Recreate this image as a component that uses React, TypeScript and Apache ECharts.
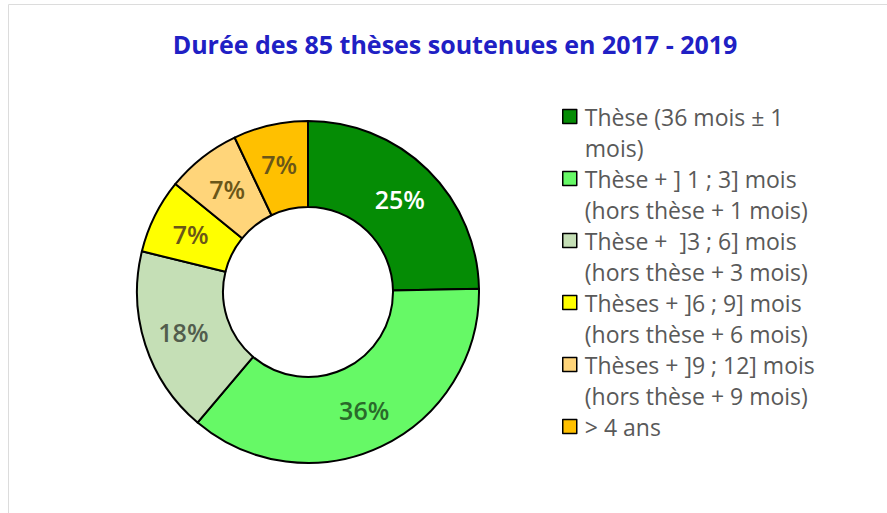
import React, { useEffect, useRef } from "react";
import * as echarts from "echarts";

const TITLE = "Durée des 85 thèses soutenues en 2017 - 2019";
const categories = [
  "Thèse (36 mois ± 1\nmois)",
  "Thèse + ] 1 ; 3] mois\n(hors thèse + 1 mois)",
  "Thèse +  ]3 ; 6] mois\n(hors thèse + 3 mois)",
  "Thèses + ]6 ; 9] mois\n(hors thèse + 6 mois)",
  "Thèses + ]9 ; 12] mois\n(hors thèse + 9 mois)",
  "> 4 ans",
];
const counts = [21, 31, 15, 6, 6, 6];
const colors = ["#058c05", "#66f966", "#c5dfb6", "#ffff00", "#ffd57a", "#ffc000"];
const labelColors = ["#ffffff", "#2a6a2a", "#525d4d", "#6a5618", "#6a5618", "#6a5618"];

export default function App() {
  const ref = useRef<HTMLDivElement>(null);
  useEffect(() => {
    if (!ref.current) return;
    const chart = echarts.init(ref.current, undefined, { renderer: "svg" });
    const font = "'Open Sans', 'Noto Sans', sans-serif";
    chart.setOption({
      animation: false,
      backgroundColor: "#ffffff",
      title: {
        text: TITLE,
        left: 455,
        top: 31,
        padding: 0,
        textAlign: "center",
        textStyle: { color: "#2020c4", fontSize: 25, fontWeight: "bold", fontFamily: font },
      },
      graphic: [
        {
          type: "rect",
          shape: { x: 8.5, y: 4.5, width: 1000, height: 1000 },
          style: { fill: "none", stroke: "#dcdcdc", lineWidth: 1 },
          silent: true,
        },
      ],
      legend: {
        orient: "vertical",
        left: 562,
        top: 70,
        padding: 0,
        itemWidth: 14,
        itemHeight: 14,
        itemGap: -31,
        icon: "rect",
        selectedMode: false,
        itemStyle: { borderColor: "#000", borderWidth: 1.5 },
        formatter: (name: string) =>
          "\n" + name + (name.indexOf("\n") >= 0 ? "" : "\n"),
        textStyle: {
          color: "#595959",
          fontSize: 23,
          fontFamily: font,
          lineHeight: 31,
          padding: [0, 0, 0, 3],
        },
        data: categories,
      },
      series: [
        {
          type: "pie",
          center: [308, 292],
          radius: [85, 171],
          startAngle: 90,
          clockwise: true,
          percentPrecision: 0,
          avoidLabelOverlap: false,
          itemStyle: { borderColor: "#000", borderWidth: 2 },
          label: {
            show: true,
            position: "inside",
            formatter: "{d}%",
            fontSize: 25,
            fontWeight: 600,
            fontFamily: font,
          },
          labelLine: { show: false },
          emphasis: { disabled: true },
          data: categories.map((name, i) => ({
            name,
            value: counts[i],
            itemStyle: { color: colors[i] },
            label: { color: labelColors[i] },
          })),
        },
      ],
    });
    return () => chart.dispose();
  }, []);
  return (
    <div
      ref={ref}
      style={{ position: "fixed", left: 0, top: 0, width: 887, height: 513 }}
    />
  );
}
